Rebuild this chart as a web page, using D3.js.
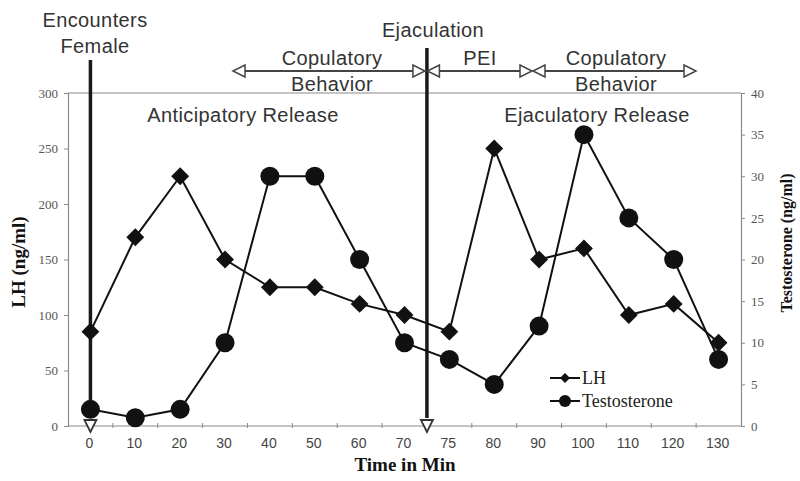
<!DOCTYPE html>
<html><head><meta charset="utf-8">
<script src="https://cdn.jsdelivr.net/npm/d3@7"></script>
<style>body{margin:0;background:#fff}svg{display:block}</style>
</head><body><svg id="c" width="800" height="481"></svg>
<script>
const times = ["0","10","20","30","40","50","60","70","75","80","90","100","110","120","130"];
const lhValues = [85,170,225,150,125,125,110,100,85,250,150,160,100,110,75];
const testoValues = [2,1,2,10,30,30,20,10,8,5,12,35,25,20,8];
const leftTicks = [0,50,100,150,200,250,300];
const rightTicks = [0,5,10,15,20,25,30,35,40];

const svg = d3.select("#c");
const L = 68, R = 741, T = 93, B = 426;
const x = d3.scaleBand().domain(times).range([L, R]).padding(0);
const xi = d3.scaleLinear().domain([0, times.length]).range([L, R]); // band-index helper for annotations
const yL = d3.scaleLinear().domain([0, 300]).range([B, T]);
const yR = d3.scaleLinear().domain([0, 40]).range([B, T]);
const cx = t => x(t) + x.bandwidth() / 2;

const axisCol = "#8a8a8a", txtCol = "#333", ink = "#111";
const sans = "'Liberation Sans', Arial, sans-serif";
const serif = "'Liberation Serif', 'Times New Roman', serif";

// frame top line
svg.append("line").attr("x1", L).attr("x2", R).attr("y1", T).attr("y2", T)
  .attr("stroke", axisCol).attr("stroke-width", 1.2);

// left axis
const gl = svg.append("g").attr("transform", `translate(${L},0)`)
  .call(d3.axisLeft(yL).tickValues(leftTicks).tickSize(4).tickPadding(6));
// right axis
const gr = svg.append("g").attr("transform", `translate(${R},0)`)
  .call(d3.axisRight(yR).tickValues(rightTicks).tickSize(4).tickPadding(6));
[gl, gr].forEach(g => {
  g.select(".domain").attr("stroke", axisCol).attr("stroke-width", 1.2);
  g.selectAll(".tick line").attr("stroke", axisCol);
  g.selectAll("text").attr("font-family", serif).attr("font-size", 13).attr("fill", "#555");
});

// bottom axis: ticks at band boundaries, labels at band centres
const gb = svg.append("g").attr("transform", `translate(0,${B})`);
gb.append("line").attr("x1", L).attr("x2", R).attr("stroke", axisCol).attr("stroke-width", 1.2);
gb.selectAll("line.tk").data(d3.range(1, times.length)).join("line").attr("class", "tk")
  .attr("x1", d => xi(d)).attr("x2", d => xi(d)).attr("y1", -3).attr("y2", 2)
  .attr("stroke", axisCol);
gb.selectAll("text").data(times).join("text")
  .attr("x", d => cx(d) - 1).attr("y", 22).attr("text-anchor", "middle")
  .attr("font-family", sans).attr("font-size", 14).attr("fill", "#444").text(d => d);

// axis titles
svg.append("text").attr("transform", `translate(25,262) rotate(-90)`).attr("text-anchor", "middle")
  .attr("font-family", serif).attr("font-weight", "bold").attr("font-size", 19).attr("fill", ink)
  .text("LH (ng/ml)");
svg.append("text").attr("transform", `translate(792,243) rotate(-90)`).attr("text-anchor", "middle")
  .attr("font-family", serif).attr("font-weight", "bold").attr("font-size", 16).attr("fill", ink)
  .text("Testosterone (ng/ml)");
svg.append("text").attr("x", 405).attr("y", 471).attr("text-anchor", "middle")
  .attr("font-family", serif).attr("font-weight", "bold").attr("font-size", 19).attr("fill", ink)
  .text("Time in Min");

// event lines
const tri = (px, py) => `M${px-6},${py-12}L${px+6},${py-12}L${px},${py}Z`;
function eventLine(px, y0) {
  svg.append("line").attr("x1", px).attr("x2", px).attr("y1", y0).attr("y2", B - 8)
    .attr("stroke", "#1a1a1a").attr("stroke-width", 3.5);
  svg.append("path").attr("d", tri(px, B + 6)).attr("fill", "#fff")
    .attr("stroke", "#333").attr("stroke-width", 1.8);
}
const xEnc = cx("0");
const xEj = xi(8);
eventLine(xEnc, 60);
eventLine(xEj, 48);

// arrows
const ay = 71;
function head(px, dir) { // dir: +1 points right, -1 points left
  const b = px - dir * 12;
  svg.append("path").attr("d", `M${b},${ay-6}L${b},${ay+6}L${px},${ay}Z`)
    .attr("fill", "#fff").attr("stroke", "#444").attr("stroke-width", 1.5);
}
function span(a, b) {
  svg.append("line").attr("x1", a + 12).attr("x2", b - 12).attr("y1", ay).attr("y2", ay)
    .attr("stroke", "#444").attr("stroke-width", 2);
  head(a, -1); head(b, 1);
}
span(233, xEj - 2);
span(xEj + 0.5, 532);
span(533, 696);

// annotation texts
function note(tx, ty, s) {
  svg.append("text").attr("x", tx).attr("y", ty).attr("text-anchor", "middle")
    .attr("font-family", sans).attr("font-size", 20).attr("letter-spacing", 0.4)
    .attr("fill", txtCol).text(s);
}
note(95, 27, "Encounters");
note(95, 53, "Female");
note(433, 37, "Ejaculation");
note(332, 65, "Copulatory");
note(332, 91, "Behavior");
note(480, 65, "PEI");
note(616, 65, "Copulatory");
note(616, 91, "Behavior");
note(243, 122, "Anticipatory Release");
note(597, 122, "Ejaculatory Release");

// series
const lhLine = d3.line().x((d, i) => cx(times[i])).y(d => yL(d));
const tLine = d3.line().x((d, i) => cx(times[i])).y(d => yR(d));
svg.append("path").attr("d", lhLine(lhValues)).attr("fill", "none").attr("stroke", ink).attr("stroke-width", 2);
svg.append("path").attr("d", tLine(testoValues)).attr("fill", "none").attr("stroke", ink).attr("stroke-width", 2);
const diamond = d3.symbol().type(d3.symbolSquare).size(160);
svg.selectAll("path.lh").data(lhValues).join("path").attr("class", "lh")
  .attr("d", diamond).attr("fill", ink)
  .attr("transform", (d, i) => `translate(${cx(times[i])},${yL(d)}) rotate(45)`);
svg.selectAll("circle.t").data(testoValues).join("circle").attr("class", "t")
  .attr("cx", (d, i) => cx(times[i])).attr("cy", d => yR(d)).attr("r", 9.5).attr("fill", ink);

// legend
const lg = svg.append("g");
lg.append("line").attr("x1", 550).attr("x2", 580).attr("y1", 378).attr("y2", 378).attr("stroke", ink).attr("stroke-width", 2);
lg.append("path").attr("d", d3.symbol().type(d3.symbolSquare).size(50)).attr("fill", ink)
  .attr("transform", "translate(565,378) rotate(45)");
lg.append("line").attr("x1", 550).attr("x2", 580).attr("y1", 401).attr("y2", 401).attr("stroke", ink).attr("stroke-width", 2);
lg.append("circle").attr("cx", 565).attr("cy", 401).attr("r", 6).attr("fill", ink);
lg.append("text").attr("x", 582).attr("y", 384).attr("font-family", serif).attr("font-size", 18).attr("fill", "#222").text("LH");
lg.append("text").attr("x", 582).attr("y", 407).attr("font-family", serif).attr("font-size", 18).attr("fill", "#222").text("Testosterone");
</script></body></html>
